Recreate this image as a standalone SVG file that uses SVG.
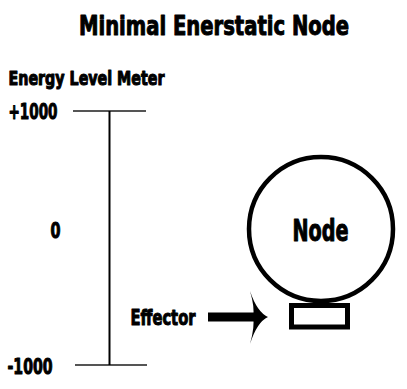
<svg xmlns="http://www.w3.org/2000/svg" width="407" height="389" viewBox="0 0 407 389">
<style>
.t{font-family:"DejaVu Sans Condensed","DejaVu Sans",sans-serif;font-weight:bold;fill:#000;stroke:#000;stroke-width:1;stroke-linejoin:round}
.tick{stroke:#555;stroke-width:2}
</style>
<rect width="407" height="389" fill="#fff"/>
<text class="t" x="79" y="34.5" font-size="27" textLength="270" lengthAdjust="spacingAndGlyphs">Minimal Enerstatic Node</text>
<g id="meter">
<text class="t" x="8.5" y="84.5" font-size="19" textLength="156" lengthAdjust="spacingAndGlyphs">Energy Level Meter</text>
<text class="t" x="8.5" y="118.5" font-size="22" textLength="49" lengthAdjust="spacingAndGlyphs">+1000</text>
<text class="t" x="50.5" y="237.5" font-size="21" textLength="10" lengthAdjust="spacingAndGlyphs">0</text>
<text class="t" x="7.5" y="373.5" font-size="22" textLength="45" lengthAdjust="spacingAndGlyphs">-1000</text>
<line class="tick" x1="73" y1="111" x2="146" y2="111"/>
<line class="tick" x1="75" y1="365" x2="147" y2="365"/>
<line x1="109.5" y1="111" x2="109.5" y2="365" stroke="#000" stroke-width="2"/>
</g>
<g id="node">
<circle cx="321" cy="229" r="72" fill="none" stroke="#000" stroke-width="4.5"/>
<text class="t" x="292.5" y="240.5" font-size="30" textLength="56" lengthAdjust="spacingAndGlyphs">Node</text>
</g>
<g id="effector">
<rect x="291.5" y="305.5" width="56" height="21.5" fill="#fff" stroke="#000" stroke-width="5"/>
<text class="t" x="130.5" y="324.5" font-size="22" textLength="65" lengthAdjust="spacingAndGlyphs">Effector</text>
</g>
<g id="connectors">
<rect x="208" y="312.5" width="48" height="9" fill="#000"/>
<path d="M250,291 Q257,312 268,317 Q257,322 250,344 Q255,326 253,317 Q255,308 250,291 Z" fill="#000"/>
</g>
</svg>
